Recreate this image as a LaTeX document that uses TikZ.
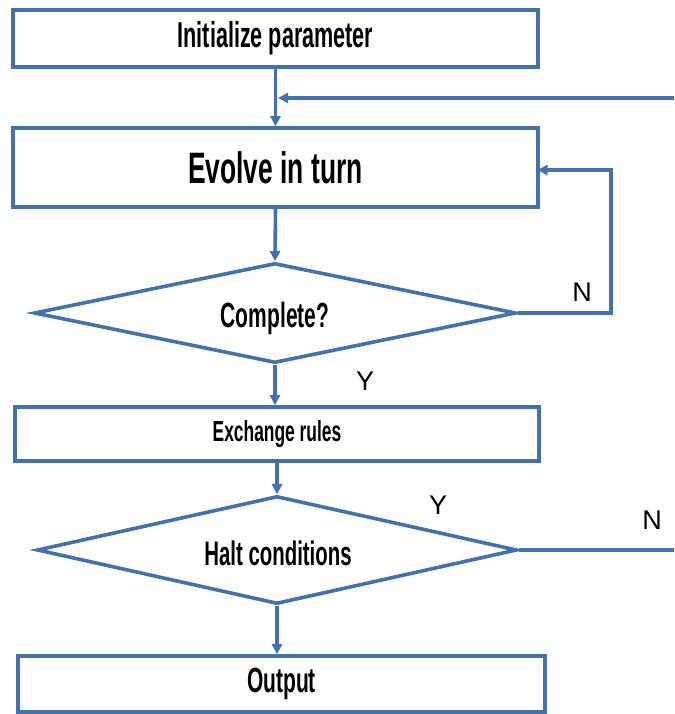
\documentclass[tikz,border=0pt]{standalone}
\usepackage{fontspec}
\setmainfont{Liberation Sans}
\newfontfamily\condfont[FakeStretch=0.6]{Liberation Sans Bold}
\usetikzlibrary{shapes.geometric,arrows.meta}
\definecolor{lineblue}{RGB}{66,113,177}
\begin{document}
\begin{tikzpicture}[x=1pt,y=-1pt,
  lbl/.style={font=\condfont\fontsize{#1}{#1}\selectfont,text=black},
  box/.style={draw=lineblue,line width=3.6pt,rectangle,inner sep=0pt},
  dia/.style={draw=lineblue,line width=3.6pt,diamond,aspect=4.8,inner sep=0pt},
  conn/.style={draw=lineblue,line width=3.6pt},
  arr/.style={conn,-{Triangle[length=10pt,width=10pt]}},
  yn/.style={font=\fontsize{27}{27}\selectfont,inner sep=0pt,text=black}]
\useasboundingbox (0,0) rectangle (674,714);
\fill[white] (0,0) rectangle (674,714);
\clip (0,0) rectangle (674,714);
% nodes
\node[box,minimum width=525pt,minimum height=57pt,lbl=36] (b1) at (275.5,38.5) {Initialize parameter};
\node[box,minimum width=525pt,minimum height=79pt,lbl=44] (b2) at (275.5,167.5) {Evolve in turn};
\node[dia,minimum width=482pt,minimum height=100pt] (d1) at (275,313) {};
\node[lbl=35,inner sep=0pt] (t3) at (275,318) {Complete?};
\node[box,minimum width=524pt,minimum height=54pt,lbl=29] (b3) at (277,434) {Exchange rules};
\node[dia,minimum width=480pt,minimum height=108pt] (d2) at (277,550) {};
\node[lbl=34,inner sep=0pt] (t5) at (278,553) {Halt conditions};
\node[box,minimum width=527pt,minimum height=56pt,lbl=35] (b4) at (281.5,684) {Output};
% labels
\node[yn] (n1) at (582,292) {N};
\node[yn] (y1) at (365,381) {Y};
\node[yn] (y2) at (438,505) {Y};
\node[yn] (n2) at (652,520) {N};
% helper coordinates
\coordinate (r1) at (690,98);
\coordinate (r2) at (690,550);
\coordinate (j1) at (278,98);
\coordinate (c1) at (611,313);
\coordinate (c2) at (611,170);
\coordinate (e2) at (537.5,170);
% connectors
\draw[arr] (b1.south) -- (b2.north);
\draw[arr] (b2.south) -- (d1.north);
\draw[arr] (d1.south) -- (d1.south |- b3.north);
\draw[arr] (b3.south) -- (b3.south |- d2.north);
\draw[arr] (d2.south) -- (d2.south |- b4.north);
\draw[arr] (d1.east) -- (c1) -- (c2) -- (e2);
\draw[arr] (d2.east) -- (r2) -- (r1) -- (j1);
\end{tikzpicture}
\end{document}
